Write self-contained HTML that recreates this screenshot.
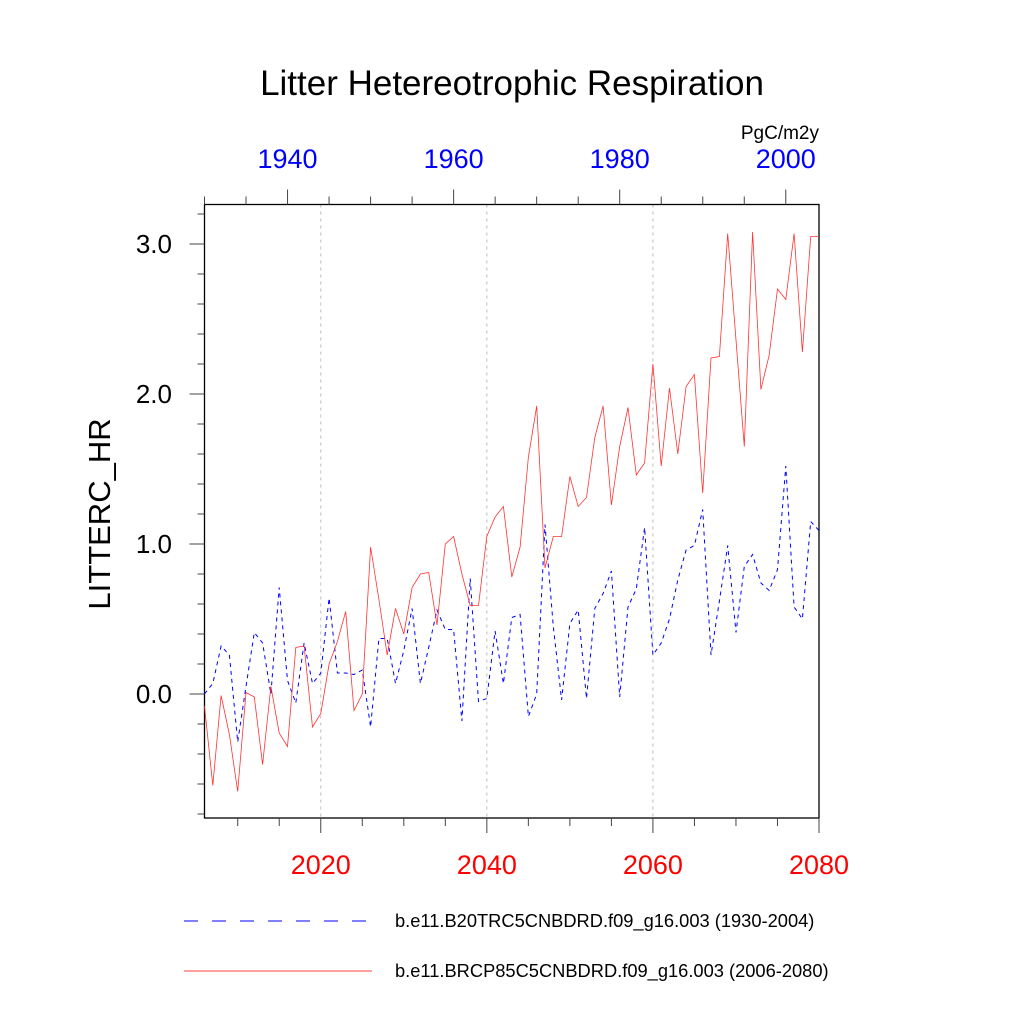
<!DOCTYPE html>
<html><head><meta charset="utf-8"><style>
body{margin:0;background:#fff;}
svg text{font-family:"Liberation Sans",sans-serif;}
</style></head><body>
<svg id="chart" width="1024" height="1024" xmlns="http://www.w3.org/2000/svg">
<text x="512" y="95" font-size="35" text-anchor="middle">Litter Hetereotrophic Respiration</text>
<text x="819" y="139" font-size="19" text-anchor="end">PgC/m2y</text>
<text transform="translate(110,514) rotate(-90)" font-size="31" text-anchor="middle">LITTERC_HR</text>
<g id="grid"></g>
<g id="axes"></g>
<g id="series"></g>
<g>
<line x1="184" y1="921" x2="372" y2="921" stroke="#00f" stroke-width="1" stroke-dasharray="14,14"/>
<text x="395" y="927" font-size="18.3">b.e11.B20TRC5CNBDRD.f09_g16.003 (1930-2004)</text>
<line x1="184" y1="971" x2="372" y2="971" stroke="#f00" stroke-width="0.8"/>
<text x="395" y="977" font-size="18.3">b.e11.BRCP85C5CNBDRD.f09_g16.003 (2006-2080)</text>
</g>
</svg>
<script>
const redValues=[-0.08,-0.61,-0.01,-0.27,-0.65,0.01,-0.02,-0.47,0.05,-0.26,-0.35,0.31,0.32,-0.22,-0.13,0.2,0.35,0.55,-0.11,0.0,0.98,0.63,0.26,0.57,0.4,0.71,0.8,0.81,0.46,1.0,1.05,0.8,0.59,0.59,1.05,1.18,1.25,0.78,0.98,1.58,1.92,0.84,1.05,1.05,1.45,1.25,1.31,1.71,1.92,1.26,1.65,1.91,1.46,1.54,2.2,1.52,2.04,1.6,2.05,2.13,1.34,2.24,2.25,3.07,2.36,1.65,3.08,2.03,2.26,2.7,2.63,3.07,2.28,3.05,3.05];
const blueValues=[0.0,0.07,0.32,0.26,-0.32,0.05,0.41,0.34,0.0,0.71,0.09,-0.06,0.34,0.07,0.14,0.64,0.14,0.14,0.13,0.16,-0.22,0.37,0.37,0.07,0.29,0.57,0.07,0.31,0.56,0.43,0.43,-0.18,0.77,-0.05,-0.03,0.42,0.07,0.51,0.53,-0.15,0.0,1.13,0.45,-0.04,0.47,0.56,-0.03,0.57,0.67,0.82,-0.02,0.58,0.7,1.11,0.26,0.34,0.5,0.76,0.96,0.99,1.23,0.26,0.62,0.99,0.41,0.85,0.93,0.74,0.69,0.83,1.52,0.58,0.5,1.15,1.09];
const redStartYear=2006;
const blueStartYear=1930;
const bottomTicks=[2020,2040,2060,2080];
const topTicks=[1940,1960,1980,2000];
const yTicks=[0.0,1.0,2.0,3.0];
const yTickLabels=["0.0","1.0","2.0","3.0"];

const L=204.5,R=819,T=204.5,B=818;
const xb=y=>L+(y-2006)*(R-L)/74;
const xt=y=>L+(y-1930)*(R-L)/74;
const yv=v=>694-v*150;
const NS="http://www.w3.org/2000/svg";
function mk(tag,attrs,parent){const e=document.createElementNS(NS,tag);for(const k in attrs)e.setAttribute(k,attrs[k]);parent.appendChild(e);return e;}
const grid=document.getElementById('grid'),axes=document.getElementById('axes'),series=document.getElementById('series');
[2020,2040,2060].forEach(y=>{
 const g=mk('line',{x1:xb(y),x2:xb(y),y1:T,y2:B,stroke:'#bbb','stroke-width':1,'stroke-dasharray':'3,4'},grid);
 
 
});
const frame=mk('rect',{x:L,y:T,width:R-L,height:B-T,fill:'none',stroke:'#000','stroke-width':1.3},axes);


for(let y=2010;y<=2080;y+=5){
 const maj=bottomTicks.includes(y);
 const t=mk('line',{x1:xb(y),x2:xb(y),y1:B,y2:B+(maj?15:8),stroke:'#444','stroke-width':1},axes);
 
 
}
bottomTicks.forEach(y=>{
 const t=mk('text',{x:xb(y),y:874,'font-size':27,fill:'#f00','text-anchor':'middle'},axes);t.textContent=y;
 
 
});
for(let y=1930;y<=2000;y+=5){
 const maj=topTicks.includes(y);
 const t=mk('line',{x1:xt(y),x2:xt(y),y1:T,y2:T-(maj?15:8),stroke:'#444','stroke-width':1},axes);
 
 
}
topTicks.forEach(y=>{
 const t=mk('text',{x:xt(y),y:168,'font-size':27,fill:'#00f','text-anchor':'middle'},axes);t.textContent=y;
 
 
});
for(let i=-4;i<=16;i++){
 const v=i*0.2,maj=(i%5===0);
 const t=mk('line',{x1:L,x2:L-(maj?15:7),y1:yv(v),y2:yv(v),stroke:'#444','stroke-width':1},axes);
 
 
}
yTicks.forEach((v,i)=>{
 const t=mk('text',{x:172,y:yv(v)+9,'font-size':26,'text-anchor':'end'},axes);t.textContent=yTickLabels[i];
 
 
});
const bp=blueValues.map((v,i)=>xt(blueStartYear+i).toFixed(1)+','+yv(v).toFixed(1)).join(' ');
const bl=mk('polyline',{points:bp,fill:'none',stroke:'#00f','stroke-width':1,'stroke-dasharray':'4,4'},series);


const rp=redValues.map((v,i)=>xb(redStartYear+i).toFixed(1)+','+yv(v).toFixed(1)).join(' ');
const rl=mk('polyline',{points:rp,fill:'none',stroke:'#f33','stroke-width':0.8},series);


</script>
</body></html>
